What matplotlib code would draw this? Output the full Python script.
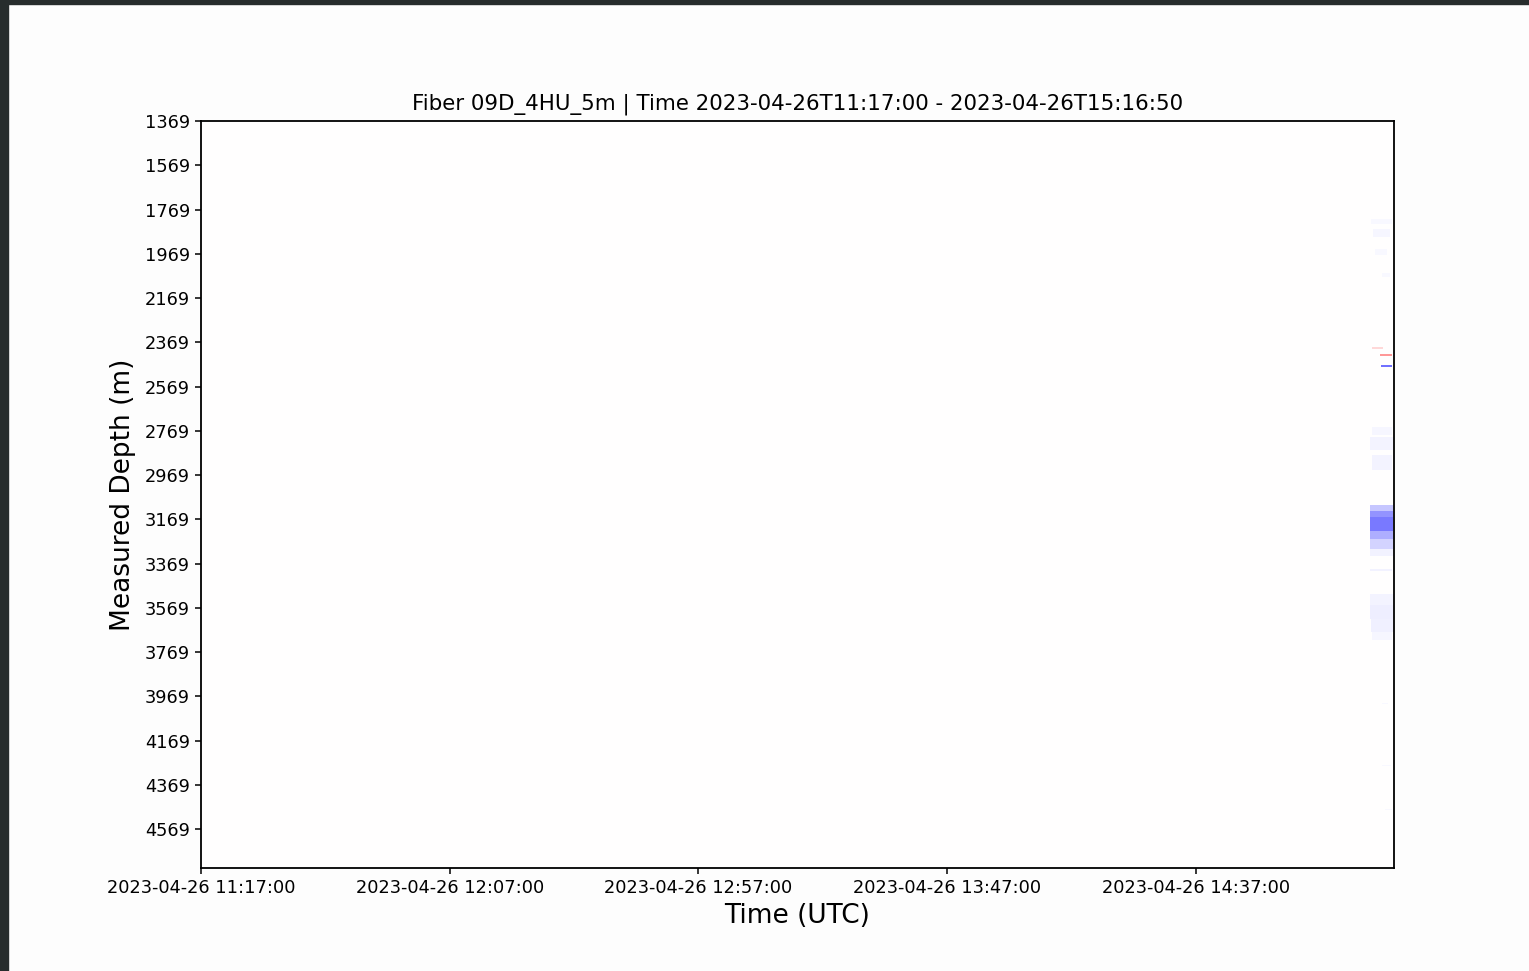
"""DAS waterfall: fiber 09D_4HU_5m, measured depth vs time."""

from datetime import datetime, timedelta

import matplotlib

matplotlib.use("Agg")
import matplotlib.dates as mdates
import matplotlib.pyplot as plt
import numpy as np
from matplotlib.patches import Rectangle

FIBER = "09D_4HU_5m"
T_START = "2023-04-26T11:17:00"
T_END = "2023-04-26T15:16:50"
DEPTH_TOP = 1369
DEPTH_BOTTOM = 4744
DEPTH_STEP = 5      # m per channel
TIME_STEP = 10      # s per sample

# y ticks (m) and x ticks (minutes after start)
depth_ticks = list(range(1369, 4570, 200))
time_tick_minutes = [0, 50, 100, 150, 200]

# strain-rate events:
# depth from, depth to (m), minute from, minute to, normalised value
event_depth_top = [1816, 1860, 1950, 2060, 2396, 2428, 2476, 2756, 2800, 2880,
                   3104, 3136, 3163, 3226, 3262, 3307, 3396, 3510, 3560, 3620,
                   3680, 4000, 4280, 4480]
event_depth_bottom = [1840, 1900, 1980, 2080, 2404, 2438, 2486, 2790, 2860, 2950,
                      3136, 3163, 3226, 3262, 3307, 3334, 3404, 3560, 3620, 3680,
                      3714, 4008, 4288, 4488]
event_t_from = [235.2, 235.8, 236.0, 237.5, 235.4, 237.0, 237.2, 235.6, 235.0, 235.4,
                235.0, 235.0, 235.0, 235.0, 235.0, 235.0, 235.0, 235.0, 235.0, 235.2,
                235.4, 237.4, 237.6, 238.0]
event_t_to = [239.4, 239.0, 238.6, 239.0, 237.8, 239.6, 239.6, 239.6, 239.8, 239.6,
              239.8, 239.8, 239.8, 239.8, 239.8, 239.8, 239.4, 239.8, 239.8, 239.8,
              239.6, 238.8, 239.2, 239.6]
event_value = [-0.03, -0.035, -0.03, -0.03, 0.15, 0.4, -0.55, -0.035, -0.045, -0.04,
               -0.22, -0.42, -0.52, -0.32, -0.17, -0.05, -0.05, -0.045, -0.07, -0.06,
               -0.035, -0.03, -0.03, -0.03]

t0 = datetime.fromisoformat(T_START)
t1 = datetime.fromisoformat(T_END)
n_t = int((t1 - t0).total_seconds() // TIME_STEP)
n_d = (DEPTH_BOTTOM - DEPTH_TOP) // DEPTH_STEP
grid = np.zeros((n_d, n_t))
for d_a, d_b, m_a, m_b, v in zip(event_depth_top, event_depth_bottom, event_t_from, event_t_to, event_value):
    r_a = int((d_a - DEPTH_TOP) / DEPTH_STEP)
    r_b = max(int((d_b - DEPTH_TOP) / DEPTH_STEP), r_a + 1)
    c_a = int(m_a * 60 / TIME_STEP)
    c_b = min(int(m_b * 60 / TIME_STEP), n_t)
    grid[r_a:r_b, c_a:c_b] = v

fig = plt.figure(figsize=(15.29, 9.71), dpi=100)
fig.patch.set_facecolor("#fdfdfd")
# dark window frame around the screenshot
fig.patches.append(Rectangle((0, 0), 8 / 1529, 1, transform=fig.transFigure, color="#272d2d", zorder=10))
fig.patches.append(Rectangle((0, 1 - 4 / 971), 1, 4 / 971, transform=fig.transFigure, color="#272d2d", zorder=10))

ax = fig.add_axes([201 / 1529, 103 / 971, 1193 / 1529, 747 / 971])
ax.set_facecolor("#fdfdfd")
ax.imshow(
    grid,
    cmap="bwr",
    vmin=-1,
    vmax=1,
    aspect="auto",
    interpolation="nearest",
    extent=[mdates.date2num(t0), mdates.date2num(t1), DEPTH_BOTTOM, DEPTH_TOP],
)
ax.set_xlim(mdates.date2num(t0), mdates.date2num(t1))
ax.set_ylim(DEPTH_BOTTOM, DEPTH_TOP)

ax.set_yticks(depth_ticks)
ax.set_xticks([mdates.date2num(t0 + timedelta(minutes=m)) for m in time_tick_minutes])
ax.xaxis.set_major_formatter(mdates.DateFormatter("%Y-%m-%d %H:%M:%S"))
ax.tick_params(labelsize=12.8, length=4.5, width=1.1)
for s in ax.spines.values():
    s.set_linewidth(1.3)

ax.set_title(f"Fiber {FIBER} | Time {T_START} - {T_END}", fontsize=15.4, pad=8)
ax.set_xlabel("Time (UTC)", fontsize=19)
ax.set_ylabel("Measured Depth (m)", fontsize=19, labelpad=6)

fig.savefig("out.png", dpi=100, facecolor=fig.get_facecolor())
